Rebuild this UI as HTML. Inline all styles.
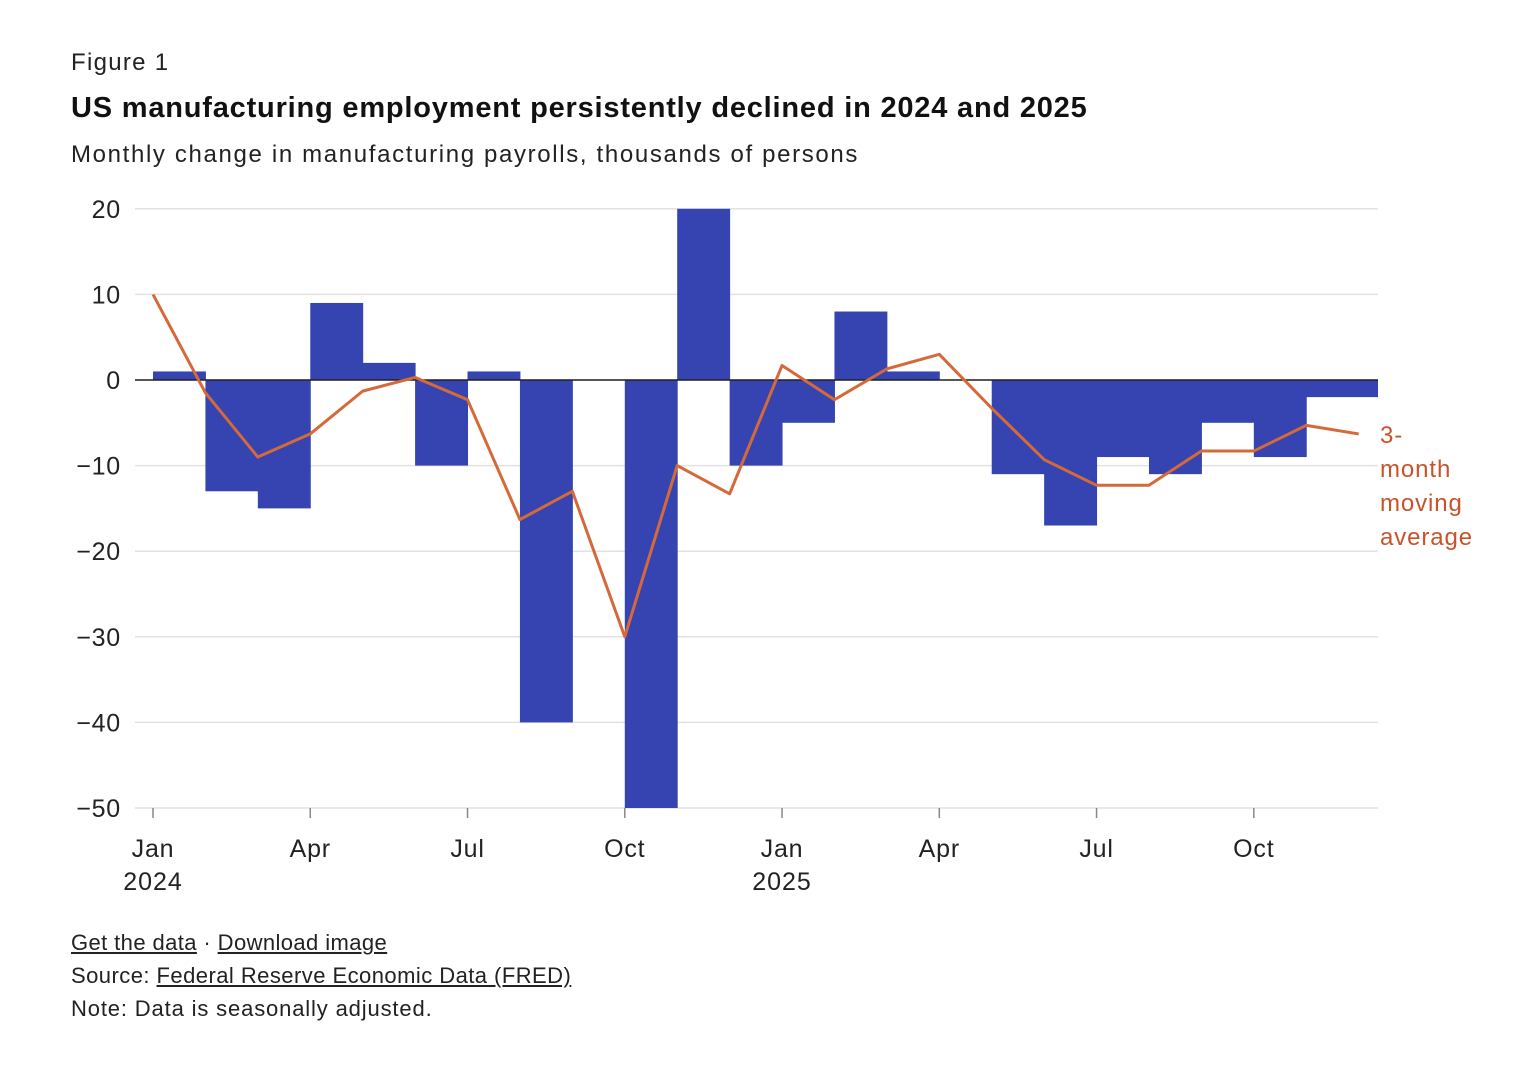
<!DOCTYPE html>
<html><head><meta charset="utf-8">
<style>
body{margin:0;background:#fff;width:1518px;height:1076px;overflow:hidden;font-family:"Liberation Sans",sans-serif;color:#222;}
.t{position:absolute;left:71px;white-space:nowrap;}
a{color:#222;text-decoration:underline;}
</style></head><body>
<div class="t" style="top:49px;font-size:24px;letter-spacing:1.3px;">Figure 1</div>
<div class="t" style="top:92px;font-size:29px;font-weight:bold;color:#111;letter-spacing:0.8px;">US manufacturing employment persistently declined in 2024 and 2025</div>
<div class="t" style="top:141px;font-size:24px;letter-spacing:1.65px;">Monthly change in manufacturing payrolls, thousands of persons</div>
<svg id="chart" width="1518" height="1076" style="position:absolute;left:0;top:0"></svg>
<div class="t" style="top:930px;font-size:22px;letter-spacing:0.4px;"><a>Get the data</a> · <a>Download image</a></div>
<div class="t" style="top:963px;font-size:22px;letter-spacing:0.45px;">Source: <a>Federal Reserve Economic Data (FRED)</a></div>
<div class="t" style="top:996px;font-size:22px;letter-spacing:0.85px;">Note: Data is seasonally adjusted.</div>
<script>
const months = ["Jan 2024","Feb","Mar","Apr","May","Jun","Jul","Aug","Sep","Oct","Nov","Dec","Jan 2025","Feb","Mar","Apr","May","Jun","Jul","Aug","Sep","Oct","Nov","Dec"];
const changes = [1,-13,-15,9,2,-10,1,-40,0,-50,20,-10,-5,8,1,0,-11,-17,-9,-11,-5,-9,-2,-2];
const movingAvg = [10,-1.5,-9,-6.3,-1.3,0.3,-2.3,-16.3,-13,-30,-10,-13.3,1.7,-2.3,1.3,3,-3.3,-9.3,-12.3,-12.3,-8.3,-8.3,-5.3,-6.3];
const yTicks = [20,10,0,-10,-20,-30,-40,-50];
const xTickIdx = [0,3,6,9,12,15,18,21];
const xTickLabels = ["Jan","Apr","Jul","Oct","Jan","Apr","Jul","Oct"];
const yearLabels = [[0,"2024"],[12,"2025"]];

const svg=document.getElementById('chart');
const NS="http://www.w3.org/2000/svg";
const x0=153, step=52.42, right=1378;
const X=i=>x0+i*step;
const Y=v=>380-v*8.56;
const FONT='Liberation Sans, sans-serif';
function mk(tag,attrs){const e=document.createElementNS(NS,tag);for(const k in attrs)e.setAttribute(k,attrs[k]);svg.appendChild(e);return e;}
yTicks.forEach(v=>{
  const g=mk('line',{x1:135,x2:right,y1:Y(v),y2:Y(v),stroke:'#e2e2e2','stroke-width':1.5});
  
  
  const t=mk('text',{x:121,y:Y(v)+9,'text-anchor':'end','font-size':25,fill:'#222','font-family':FONT,'letter-spacing':0.8});
  t.textContent=(v<0?'\u2212'+(-v):v);
  
  
});
changes.forEach((v,i)=>{
  if(v===0)return;
  const xa=X(i), xb=Math.min(X(i+1)+0.5,right);
  const r=mk('rect',{x:xa,width:xb-xa,y:Math.min(Y(v),Y(0)),height:Math.abs(Y(v)-Y(0)),fill:'#3544b0'});
  
  
});
const z=mk('line',{x1:135,x2:right,y1:Y(0),y2:Y(0),stroke:'#222','stroke-width':1.5});


xTickIdx.forEach((idx,k)=>{
  const tk=mk('line',{x1:X(idx),x2:X(idx),y1:Y(-50),y2:Y(-50)+10,stroke:'#888','stroke-width':1.5});
  
  
  const t=mk('text',{x:X(idx),y:857,'text-anchor':'middle','font-size':25,fill:'#222','font-family':FONT,'letter-spacing':0.8});
  t.textContent=xTickLabels[k];
  
  
});
yearLabels.forEach(([idx,l])=>{
  const t=mk('text',{x:X(idx),y:890,'text-anchor':'middle','font-size':25,fill:'#222','font-family':FONT,'letter-spacing':1});
  t.textContent=l;
  
  
});
const p=mk('polyline',{points:movingAvg.map((v,i)=>X(i)+','+Y(v)).join(' '),fill:'none',stroke:'#d4693a','stroke-width':3,'stroke-linejoin':'round'});


["3-","month","moving","average"].forEach((s,i)=>{
  const t=mk('text',{x:1380,y:443+i*34,'font-size':24,fill:'#c8532a','font-family':FONT,'letter-spacing':0.9});
  t.textContent=s;
  
  
});
</script>
</body></html>
